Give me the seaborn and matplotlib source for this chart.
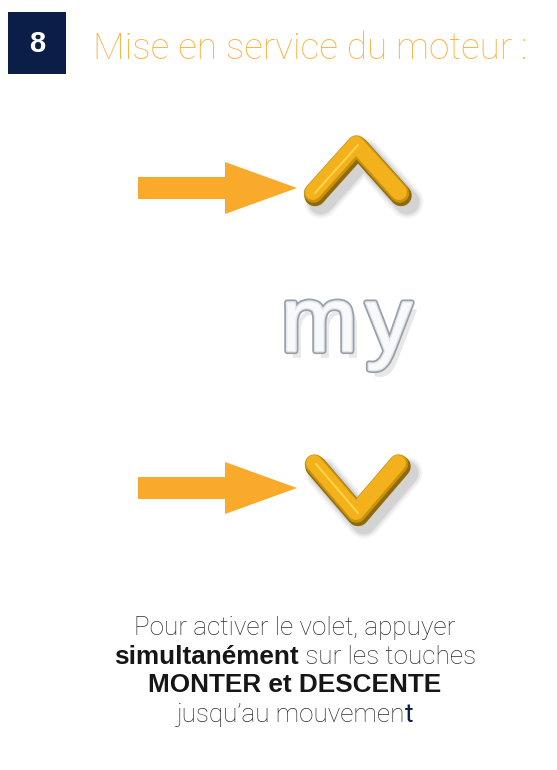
"""Step 8 card: motor start-up instructions (up / my / down keys)."""

import numpy as np
import matplotlib
matplotlib.use('Agg')
import matplotlib.pyplot as plt
import matplotlib.patches as mpatches
import matplotlib.patheffects as pe
import seaborn as sns


# Content
STEP = '8'
TITLE = 'Mise en service du moteur :'
BUTTON_LETTERS = ['m', 'y']
KEYS = ['up', 'down']
CAPTION_RUNS = [
    ['Pour activer le volet, appuyer'],
    ['simultanément', ' sur les touches'],
    ['MONTER et DESCENTE'],
    ['jusqu’au mouvemen', 't'],
]
CAPTION_KINDS = [
    ['light'],
    ['bold', 'light'],
    ['bold'],
    ['light', 'accent'],
]

COLORS = {
    'navy': '#0b1e47',
    'orange': '#f9aa2a',
    'title': '#fbb346',
    'gold': '#f3b21b',
    'gold_dark': '#8f6a0c',
    'gold_light': '#ffd84d',
    'light': '#2e2e2e',
    'bold': '#161616',
    'accent': '#0b1e47',
}

W, H = 557, 770


def setup_style():
    sns.set_theme(style='white')
    plt.rcParams['font.family'] = ['Liberation Sans', 'DejaVu Sans']


def draw_arrow(ax, y):
    """Flat orange arrow pointing right, centred on y."""
    shaft = mpatches.Rectangle((138, y - 11), 88, 22, color=COLORS['orange'], lw=0)
    head = mpatches.Polygon([(225, y - 26), (297, y), (225, y + 26)], closed=True,
                            color=COLORS['orange'], lw=0)
    ax.add_patch(shaft)
    ax.add_patch(head)


def draw_chevron(ax, key):
    if key == 'up':
        xs = np.array([314, 357, 400])
        ys = np.array([194, 146, 194])
    else:
        xs = np.array([315, 357, 399])
        ys = np.array([465, 514, 465])
    kw = dict(solid_capstyle='round', solid_joinstyle='round')
    # soft shadow
    for lw, a in [(24, 0.04), (21, 0.06), (18, 0.08)]:
        ax.plot(xs + 7, ys + 8, color='black', alpha=a, lw=lw, **kw)
    # extruded side (darker), then the face
    ax.plot(xs + 1, ys + 1.5, color=COLORS['gold_dark'], lw=15.5, **kw)
    ax.plot(xs - 0.5, ys - 1, color='#c8920f', lw=14, **kw)
    ax.plot(xs - 1, ys - 2, color=COLORS['gold'], lw=11.5, **kw)
    # bevel highlight on the left arm
    ax.plot(xs[:2] + 1, ys[:2] - 1, color=COLORS['gold_light'], lw=1.5, alpha=0.9,
            solid_capstyle='round')


def draw_button(ax):
    effects = [pe.SimplePatchShadow(offset=(4, -5), shadow_rgbFace='#999999', alpha=0.22),
               pe.Stroke(linewidth=4.5, foreground='#9aa0aa'),
               pe.Stroke(linewidth=2, foreground='#e3e6eb'),
               pe.Normal()]
    for letter, x in zip(BUTTON_LETTERS, [281, 366]):
        ax.text(x, 351, letter, fontsize=66, color='#f8f9fb', ha='left', va='baseline',
                path_effects=effects)


def draw_caption(ax, fig):
    renderer = fig.canvas.get_renderer()
    baselines = [635, 664, 692, 722]
    for runs, kinds, yb in zip(CAPTION_RUNS, CAPTION_KINDS, baselines):
        texts = []
        for run, kind in zip(runs, kinds):
            if kind == 'bold':
                t = ax.text(0, yb, run, fontsize=18.8, fontweight='bold',
                            color=COLORS['bold'], ha='left', va='baseline')
            else:
                weight = 'normal' if kind == 'accent' else 'light'
                t = ax.text(0, yb, run, fontsize=18.8, family=['Roboto', 'DejaVu Sans'],
                            fontweight=weight, color=COLORS[kind],
                            ha='left', va='baseline')
            texts.append(t)
        widths = [t.get_window_extent(renderer).width for t in texts]
        x = 295 - sum(widths) / 2
        for t, w in zip(texts, widths):
            t.set_x(x)
            x += w


def main():
    setup_style()
    fig = plt.figure(figsize=(W / 100, H / 100), dpi=100)
    ax = fig.add_axes([0, 0, 1, 1])
    ax.set_xlim(0, W)
    ax.set_ylim(H, 0)
    ax.axis('off')

    # step badge + title
    ax.add_patch(mpatches.Rectangle((8, 12), 58, 62, color=COLORS['navy'], lw=0))
    ax.text(37, 44, STEP, fontsize=21, fontweight='bold', color='white',
            ha='center', va='center')
    ax.text(93, 59, TITLE, fontsize=26.6, family=['Roboto', 'DejaVu Sans'],
            fontweight='light', color=COLORS['title'], ha='left', va='baseline')

    # keys
    for key, y in zip(KEYS, [188, 488]):
        draw_arrow(ax, y)
        draw_chevron(ax, key)

    draw_button(ax)
    draw_caption(ax, fig)

    fig.savefig('out.png', dpi=100, facecolor='white')


if __name__ == '__main__':
    main()
